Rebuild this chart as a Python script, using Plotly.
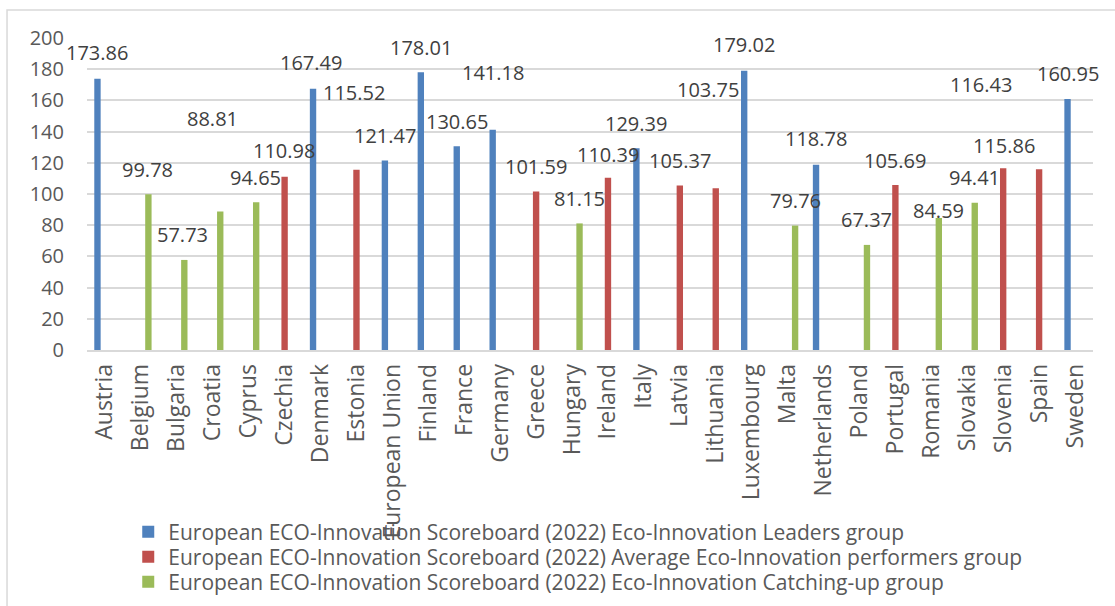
import plotly.graph_objects as go

# ---------------- data ----------------
countries = ["Austria", "Belgium", "Bulgaria", "Croatia", "Cyprus", "Czechia", "Denmark",
             "Estonia", "European Union", "Finland", "France", "Germany", "Greece", "Hungary",
             "Ireland", "Italy", "Latvia", "Lithuania", "Luxembourg", "Malta", "Netherlands",
             "Poland", "Portugal", "Romania", "Slovakia", "Slovenia", "Spain", "Sweden"]
scores = [173.86, 99.78, 57.73, 88.81, 94.65, 110.98, 167.49,
          115.52, 121.47, 178.01, 130.65, 141.18, 101.59, 81.15,
          110.39, 129.39, 105.37, 103.75, 179.02, 79.76, 118.78,
          67.37, 105.69, 84.59, 94.41, 116.43, 115.86, 160.95]
# group code: L = leaders, A = average performers, C = catching-up
groups = ["L", "C", "C", "C", "C", "A", "L",
          "A", "L", "L", "L", "L", "A", "C",
          "A", "L", "A", "A", "L", "C", "L",
          "C", "A", "C", "C", "A", "A", "L"]
series_names = {
    "L": "European ECO-Innovation Scoreboard (2022) Eco-Innovation Leaders group",
    "A": "European ECO-Innovation Scoreboard (2022) Average Eco-Innovation performers group",
    "C": "European ECO-Innovation Scoreboard (2022) Eco-Innovation Catching-up group",
}
series_order = ["L", "A", "C"]

# ---------------- styles ----------------
series_colors = {"L": "#4F81BD", "A": "#C0504D", "C": "#9BBB59"}
slot_index = {"L": -1, "A": 0, "C": 1}
BAR_SLOT_PX = 7.5
# manual data-label displacement (pixels) as in the original chart
label_dx = [0, -0.5, -1.5, -8, -1, -0.5, -2,
            -2.5, 0, 0, 0, 0, 0, 0,
            0, 0, 0, -8, 0, 0, 0,
            0, 0, 0, 0, -22, -35, 0]
label_dy = [26, 25, 25, 93, 25, 26, 26,
            77, 25, 25, 25, 57, 25, 25,
            23, 25, 25, 99, 26, 25, 26,
            25, 25, 8, 25, 84, 24, 25]
legend_rows_y = {"L": -0.5833, "A": -0.6635, "C": -0.7436}
legend_ids = {"L": "legend", "A": "legend2", "C": "legend3"}

FONT = "'Open Sans', Lato, sans-serif"
TXT = "#595959"

fig = go.Figure()
for g in series_order:
    ys = [v if gg == g else None for v, gg in zip(scores, groups)]
    fig.add_trace(go.Bar(
        x=countries, y=ys, name=series_names[g],
        marker=dict(color=series_colors[g], line=dict(width=0)),
        legend=legend_ids[g],
    ))

annotations = []
for i, (c, v, g) in enumerate(zip(countries, scores, groups)):
    annotations.append(dict(
        x=c, y=v, xref="x", yref="y", text=f"{v:.2f}", showarrow=False,
        xanchor="center", yanchor="middle",
        xshift=slot_index[g] * BAR_SLOT_PX + label_dx[i], yshift=label_dy[i],
        font=dict(family=FONT, size=20, color="#404040"),
    ))

legend_common = dict(
    orientation="v", x=0.041, xanchor="left", yanchor="middle",
    font=dict(family=FONT, size=21, color=TXT),
    bgcolor="rgba(0,0,0,0)", borderwidth=0,
)
layout_legends = {}
for g in series_order:
    layout_legends[legend_ids[g]] = dict(legend_common, y=legend_rows_y[g])

fig.update_layout(
    width=1115, height=606,
    margin=dict(l=87, r=22, t=38, b=256, autoexpand=False),
    paper_bgcolor="white", plot_bgcolor="white",
    barmode="group", bargap=0.374, bargroupgap=0.15,
    font=dict(family=FONT, size=20, color=TXT),
    annotations=annotations,
    showlegend=True,
    shapes=[dict(type="rect", xref="paper", yref="paper",
                 x0=-0.0795, x1=1.1, y0=-1.2, y1=1.0897,
                 line=dict(color="#d9d9d9", width=1.5), layer="below")],
    **layout_legends,
)
fig.update_yaxes(
    range=[0, 200], dtick=20, tick0=0,
    showgrid=True, gridcolor="#d9d9d9", gridwidth=1.5,
    zeroline=False, showline=False, ticks="",
    ticklabelstandoff=22,
    tickfont=dict(family=FONT, size=20, color=TXT),
)
fig.update_xaxes(
    type="category", range=[-0.5, len(countries) - 0.5],
    tickangle=-90, automargin=False,
    showline=True, linecolor="#d9d9d9", linewidth=1.5,
    ticks="", showgrid=False, ticklabelstandoff=3,
    tickfont=dict(family=FONT, size=23, color=TXT),
)

fig.write_html("out.html")
